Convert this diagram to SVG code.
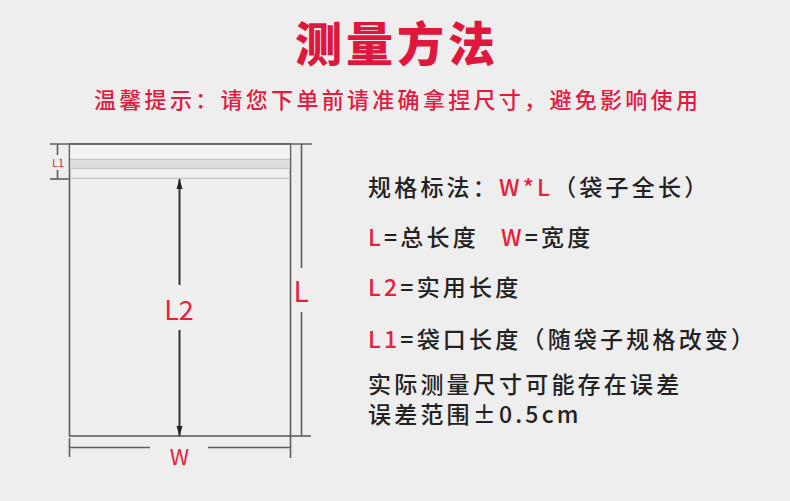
<svg xmlns="http://www.w3.org/2000/svg" width="790" height="501" viewBox="0 0 790 501">
<style>
.cjk{font-family:"Noto Sans CJK SC","Noto Sans",sans-serif}
.title{font-size:47px;font-weight:900;fill:#e0173d;letter-spacing:4px}
.sub{font-size:22px;font-weight:500;fill:#e31b40;letter-spacing:3.3px}
.info{font-size:23px;font-weight:500;fill:#222;letter-spacing:3.2px}
.red{fill:#e8203a}
.dim{stroke:#5e5e5e;stroke-width:1.6;fill:none}
.seal{stroke:#c4c4c4;stroke-width:1.2;fill:none}
.lab{fill:#e8203a;text-anchor:middle}
.arrow{stroke:#333;stroke-width:2;fill:none}
</style>
<defs>
<marker id="ah" viewBox="0 0 10 10" refX="10" refY="5" markerWidth="10" markerHeight="10" markerUnits="userSpaceOnUse" orient="auto-start-reverse">
<path d="M0,2 L10,5 L0,8 Z" fill="#222"/>
</marker>
</defs>
<rect width="790" height="501" fill="#eeeeee"/>
<g id="title"><text class="cjk title" x="295" y="61">测量方法</text></g>
<g id="subtitle"><text class="cjk sub" x="94" y="108">温馨提示：请您下单前请准确拿捏尺寸，避免影响使用</text></g>
<g id="bag">
<rect x="69.5" y="144" width="221" height="292" fill="#efefef" stroke="#5e5e5e" stroke-width="1.6"/>
<rect x="70.3" y="144.8" width="219.4" height="14.5" fill="#f3f3f3"/>
<rect x="70.3" y="159.3" width="219.4" height="9" fill="#dedede"/>
<line class="seal" x1="70" y1="159.3" x2="290" y2="159.3"/>
<line class="seal" x1="70" y1="168.3" x2="290" y2="168.3"/>
<line class="seal" x1="70" y1="178.3" x2="290" y2="178.3"/>
</g>
<g id="connectors">
<line class="dim" x1="50" y1="144" x2="312" y2="144"/>
<line class="dim" x1="50" y1="179" x2="70" y2="179"/>
<line class="dim" x1="57.5" y1="144" x2="57.5" y2="155"/>
<line class="dim" x1="57.5" y1="170" x2="57.5" y2="179"/>
<line class="dim" x1="290" y1="436" x2="311" y2="436"/>
<line class="dim" x1="301.5" y1="144" x2="301.5" y2="268"/>
<line class="dim" x1="301.5" y1="312" x2="301.5" y2="436"/>
<line class="dim" x1="69.5" y1="438" x2="69.5" y2="457"/>
<line class="dim" x1="290.5" y1="436" x2="290.5" y2="458"/>
<line class="dim" x1="69.5" y1="447.5" x2="150" y2="447.5"/>
<line class="dim" x1="208" y1="447.5" x2="290.5" y2="447.5"/>
<line class="arrow" x1="179.5" y1="285" x2="179.5" y2="179" marker-end="url(#ah)"/>
<line class="arrow" x1="179.5" y1="330" x2="179.5" y2="436" marker-end="url(#ah)"/>
</g>
<g id="label-L1"><text class="cjk lab" x="58" y="167" font-size="11">L1</text></g>
<g id="label-L2"><text class="cjk lab" x="179" y="319.5" font-size="27">L2</text></g>
<g id="label-L"><text class="cjk lab" x="301" y="302" font-size="28">L</text></g>
<g id="label-W"><text class="cjk lab" x="179.5" y="464.5" font-size="22">W</text></g>
<g id="legend">
<text class="cjk info" x="368" y="196">规格标法：<tspan class="red">W*L</tspan>（袋子全长）</text>
<text class="cjk info" x="368" y="245.5"><tspan class="red">L</tspan>=总长度<tspan class="red" x="501">W</tspan>=宽度</text>
<text class="cjk info" x="368" y="296"><tspan class="red">L2</tspan>=实用长度</text>
<text class="cjk info" x="368" y="348"><tspan class="red">L1</tspan>=袋口长度（随袋子规格改变）</text>
<text class="cjk info" x="368" y="393">实际测量尺寸可能存在误差<tspan x="368" dy="29.5">误差范围±0.5cm</tspan></text>
</g>
</svg>
